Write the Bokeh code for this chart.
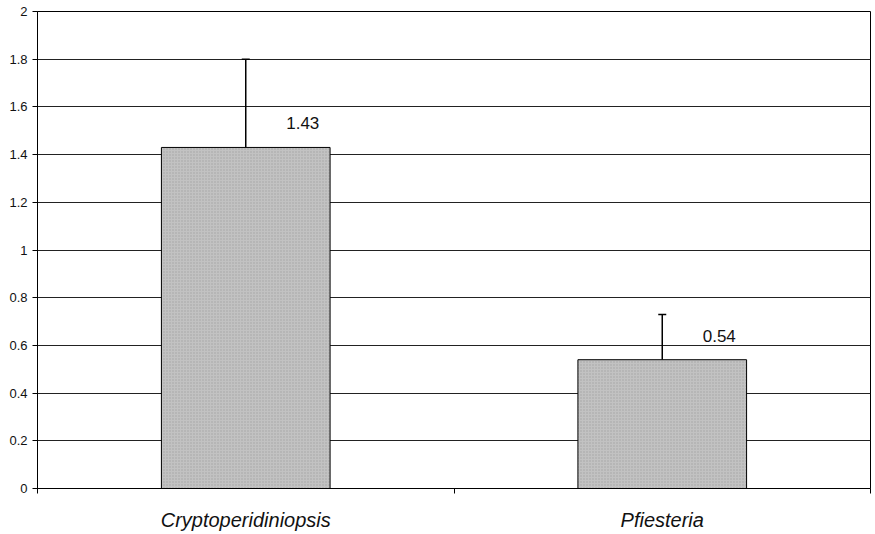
from bokeh.plotting import figure
from bokeh.models import ColumnDataSource, FixedTicker, Whisker, Range1d
from bokeh.core.properties import value
from bokeh.embed import file_html
from bokeh.resources import INLINE

categories = ["Cryptoperidiniopsis", "Pfiesteria"]
means = [1.43, 0.54]
errors = [0.37, 0.19]
labels = ["1.43", "0.54"]
y_ticks = [0, 0.2, 0.4, 0.6, 0.8, 1, 1.2, 1.4, 1.6, 1.8, 2]
y_tick_labels = ["0", "0.2", "0.4", "0.6", "0.8", "1", "1.2", "1.4", "1.6", "1.8", "2"]

xs = [i + 0.5 for i in range(len(categories))]
src = ColumnDataSource(dict(
    x=xs, top=means, upper=[m + e for m, e in zip(means, errors)], label=labels))

p = figure(output_backend="svg", toolbar_location=None,
           frame_width=833, frame_height=477,
           min_border_left=37, min_border_right=1, min_border_top=11, min_border_bottom=38,
           x_range=Range1d(0, len(categories)), y_range=Range1d(0, 2))
p.outline_line_color = "black"
p.outline_line_width = 1
p.background_fill_color = "white"
p.border_fill_color = "white"

p.vbar(x="x", top="top", width=0.405, bottom=0, source=src,
       fill_color="#c2c2c2", line_color="black", line_width=1,
       hatch_pattern="dot", hatch_color="#8a8a8a", hatch_scale=3, hatch_alpha=0.55)

w = Whisker(base="x", lower="top", upper="upper", source=src,
            line_color="black", line_width=1.5)
w.lower_head = None
w.upper_head.size = 8
w.upper_head.line_color = "black"
w.upper_head.line_width = 1.5
p.add_layout(w)

p.text(x="x", y="top", text="label", source=src, x_offset=57, y_offset=-18,
       text_align="center", text_baseline="bottom",
       text_font=value("Liberation Sans"), text_font_size="17px", text_color="#111111")

# y axis
p.yaxis.ticker = FixedTicker(ticks=y_ticks, minor_ticks=[])
p.yaxis.major_label_overrides = {t: l for t, l in zip(y_ticks, y_tick_labels)}
p.yaxis.major_label_text_font = "Liberation Sans"
p.yaxis.major_label_text_font_size = "13px"
p.yaxis.major_label_text_color = "#111111"
p.yaxis.major_tick_out = 5
p.yaxis.major_tick_in = 0
p.yaxis.major_label_standoff = 5
p.yaxis.axis_line_color = "black"

# x axis
p.xaxis.ticker = FixedTicker(ticks=xs, minor_ticks=[float(i) for i in range(len(categories) + 1)])
p.xaxis.major_label_overrides = {x: c for x, c in zip(xs, categories)}
p.xaxis.major_label_text_font = "Liberation Sans"
p.xaxis.major_label_text_font_style = "italic"
p.xaxis.major_label_text_font_size = "20px"
p.xaxis.major_label_text_color = "#111111"
p.xaxis.major_tick_out = 0
p.xaxis.major_tick_in = 0
p.xaxis.minor_tick_out = 5
p.xaxis.minor_tick_in = 0
p.xaxis.major_label_standoff = 15
p.xaxis.axis_line_color = "black"

p.xgrid.grid_line_color = None
p.ygrid.ticker = FixedTicker(ticks=y_ticks)
p.ygrid.grid_line_color = "#222222"
p.ygrid.grid_line_width = 1

open("out.html", "w").write(file_html(p, INLINE))
